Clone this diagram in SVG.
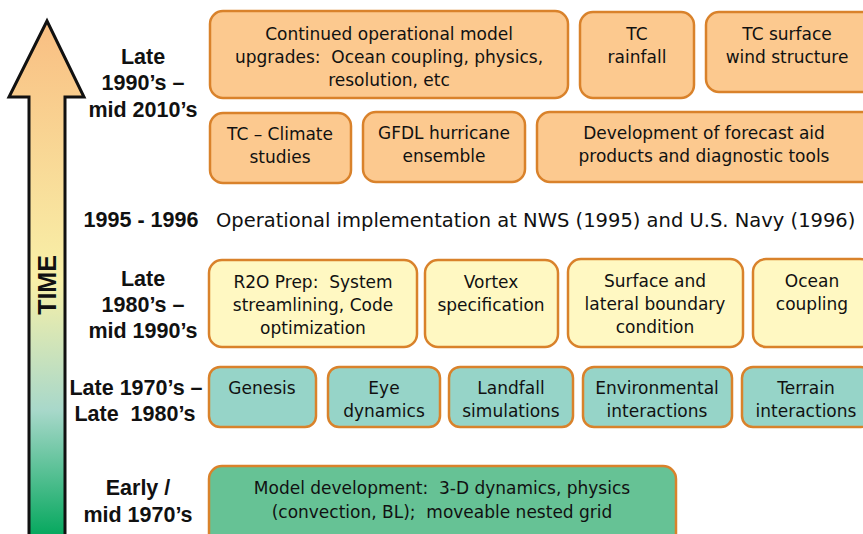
<svg xmlns="http://www.w3.org/2000/svg" width="863" height="534" viewBox="0 0 863 534" xml:space="preserve">
<defs>
<linearGradient id="timeGrad" x1="0" y1="0" x2="0" y2="1">
<stop offset="0" stop-color="#F9BE82"/>
<stop offset="0.5" stop-color="#F8F0A8"/>
<stop offset="0.75" stop-color="#A8D8CA"/>
<stop offset="1" stop-color="#00A65A"/>
</linearGradient>
<style>
text{white-space:pre}
.box{stroke:#D9822B;stroke-width:2.5}
.o{fill:#FCC98F}
.y{fill:#FFF8C2}
.t{fill:#96D4C8}
.g{fill:#66C295}
.bt{font-family:"DejaVu Sans",Verdana,sans-serif;font-size:17px;fill:#111;text-anchor:middle}
.lbl{font-family:"Liberation Sans",Arial,sans-serif;font-weight:bold;font-size:21.5px;fill:#111;text-anchor:middle}
</style>
</defs>
<g id="time-arrow">
<path d="M47,21 L84,97 L65,97 L65,540 L29,540 L29,97 L9,97 Z" fill="url(#timeGrad)" stroke="#111" stroke-width="3" stroke-linejoin="miter"/>
<text x="0" y="0" transform="translate(56,285) rotate(-90)" font-family="Liberation Sans,Arial,sans-serif" font-weight="bold" font-size="25" text-anchor="middle" fill="#111">TIME</text>
</g>
<g id="era-labels">
<text class="lbl" x="143" y="64">Late</text>
<text class="lbl" x="143" y="90">1990’s –</text>
<text class="lbl" x="143" y="117">mid 2010’s</text>
<text class="lbl" x="141" y="227">1995 - 1996</text>
<text class="lbl" x="143" y="286">Late</text>
<text class="lbl" x="143" y="312">1980’s –</text>
<text class="lbl" x="143" y="338">mid 1990’s</text>
<text class="lbl" x="136" y="395">Late 1970’s –</text>
<text class="lbl" x="135" y="421">Late  1980’s</text>
<text class="lbl" x="138" y="495">Early /</text>
<text class="lbl" x="138" y="522">mid 1970’s</text>
</g>
<g id="milestone-1995">
<text x="216" y="227" font-family="DejaVu Sans,Verdana,sans-serif" font-size="19.5" fill="#111">Operational implementation at NWS (1995) and U.S. Navy (1996)</text>
</g>
<g id="n-continued">
<rect class="box o" x="210" y="11" width="358" height="87" rx="13"/>
<text class="bt" x="389" y="40">Continued operational model</text>
<text class="bt" x="389" y="63">upgrades:  Ocean coupling, physics,</text>
<text class="bt" x="389" y="86">resolution, etc</text>
</g>
<g id="n-rainfall">
<rect class="box o" x="580" y="12" width="114" height="86" rx="13"/>
<text class="bt" x="637" y="40">TC</text>
<text class="bt" x="637" y="63">rainfall</text>
</g>
<g id="n-wind">
<rect class="box o" x="706" y="12" width="170" height="80" rx="13"/>
<text class="bt" x="787" y="40">TC surface</text>
<text class="bt" x="787" y="63">wind structure</text>
</g>
<g id="n-climate">
<rect class="box o" x="210" y="113" width="141" height="70" rx="13"/>
<text class="bt" x="280" y="140">TC – Climate</text>
<text class="bt" x="280" y="163">studies</text>
</g>
<g id="n-ensemble">
<rect class="box o" x="363" y="112" width="162" height="70" rx="13"/>
<text class="bt" x="444" y="139">GFDL hurricane</text>
<text class="bt" x="444" y="162">ensemble</text>
</g>
<g id="n-forecast">
<rect class="box o" x="537" y="112" width="340" height="70" rx="13"/>
<text class="bt" x="704" y="139">Development of forecast aid</text>
<text class="bt" x="704" y="162">products and diagnostic tools</text>
</g>
<g id="n-r2o">
<rect class="box y" x="209" y="260" width="208" height="87" rx="13"/>
<text class="bt" x="313" y="288">R2O Prep:  System</text>
<text class="bt" x="313" y="311">streamlining, Code</text>
<text class="bt" x="313" y="334">optimization</text>
</g>
<g id="n-vortex">
<rect class="box y" x="425" y="260" width="133" height="87" rx="13"/>
<text class="bt" x="491" y="288">Vortex</text>
<text class="bt" x="491" y="311">specification</text>
</g>
<g id="n-surface">
<rect class="box y" x="568" y="259" width="175" height="88" rx="13"/>
<text class="bt" x="655" y="287">Surface and</text>
<text class="bt" x="655" y="310">lateral boundary</text>
<text class="bt" x="655" y="333">condition</text>
</g>
<g id="n-ocean">
<rect class="box y" x="753" y="259" width="120" height="88" rx="13"/>
<text class="bt" x="812" y="287">Ocean</text>
<text class="bt" x="812" y="310">coupling</text>
</g>
<g id="n-genesis">
<rect class="box t" x="209" y="367" width="107" height="60" rx="11"/>
<text class="bt" x="262" y="394">Genesis</text>
</g>
<g id="n-eye">
<rect class="box t" x="328" y="367" width="112" height="60" rx="11"/>
<text class="bt" x="384" y="394">Eye</text>
<text class="bt" x="384" y="417">dynamics</text>
</g>
<g id="n-landfall">
<rect class="box t" x="449" y="367" width="124" height="60" rx="11"/>
<text class="bt" x="511" y="394">Landfall</text>
<text class="bt" x="511" y="417">simulations</text>
</g>
<g id="n-environmental">
<rect class="box t" x="583" y="367" width="149" height="60" rx="11"/>
<text class="bt" x="657" y="394">Environmental</text>
<text class="bt" x="657" y="417">interactions</text>
</g>
<g id="n-terrain">
<rect class="box t" x="742" y="367" width="130" height="60" rx="11"/>
<text class="bt" x="806" y="394">Terrain</text>
<text class="bt" x="806" y="417">interactions</text>
</g>
<g id="n-model">
<rect class="box g" x="209" y="466" width="467" height="80" rx="13"/>
<text class="bt" x="442" y="494">Model development:  3-D dynamics, physics</text>
<text class="bt" x="442" y="518">(convection, BL);  moveable nested grid</text>
</g>
<g id="connectors"></g>
</svg>
